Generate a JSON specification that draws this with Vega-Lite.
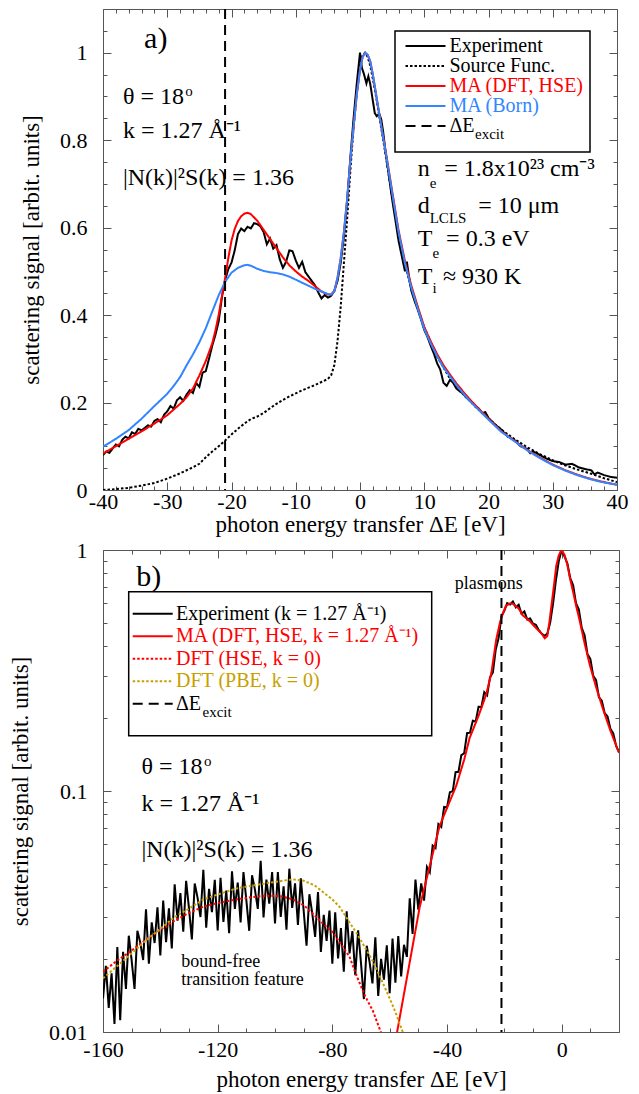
{
  "$schema": "https://vega.github.io/schema/vega-lite/v6.json",
  "padding": {"left": 9, "top": 7, "right": 0, "bottom": 0},
  "spacing": 1,
  "config": {
    "font": "Liberation Serif",
    "view": {"stroke": "#555", "strokeWidth": 1},
    "axis": {
      "labelFont": "Liberation Serif", "titleFont": "Liberation Serif",
      "labelFontSize": 22, "titleFontSize": 23, "titleFontWeight": "normal",
      "labelColor": "#000", "titleColor": "#000", "tickColor": "#555",
      "domain": false, "grid": false, "labelFlush": false, "labelOverlap": false
    },
    "axisX": {"labelPadding": 10, "titlePadding": 0},
    "axisY": {"labelPadding": 24, "titlePadding": 16},
    "legend": {"strokeWidth": 1.5, "labelFont": "Liberation Serif"},
    "text": {"font": "Liberation Serif"}
  },
  "resolve": {
    "scale": {"color": "independent", "strokeDash": "independent"},
    "legend": {"color": "independent", "strokeDash": "independent"}
  },
  "vconcat": [
    {
      "width": 514,
      "height": 481,
      "resolve": {"axis": {"x": "independent", "y": "independent"}},
      "layer": [
        {
          "data": {"values": [
            {"E": -40, "v": 0.080, "s": "Experiment"}, {"E": -39.5, "v": 0.088, "s": "Experiment"}, {"E": -39, "v": 0.085, "s": "Experiment"}, {"E": -38.5, "v": 0.095, "s": "Experiment"}, {"E": -38, "v": 0.104, "s": "Experiment"}, {"E": -37.5, "v": 0.100, "s": "Experiment"}, {"E": -37, "v": 0.115, "s": "Experiment"}, {"E": -36.5, "v": 0.122, "s": "Experiment"}, {"E": -36, "v": 0.118, "s": "Experiment"}, {"E": -35.5, "v": 0.132, "s": "Experiment"}, {"E": -35, "v": 0.128, "s": "Experiment"}, {"E": -34.5, "v": 0.140, "s": "Experiment"}, {"E": -34, "v": 0.136, "s": "Experiment"}, {"E": -33.5, "v": 0.142, "s": "Experiment"}, {"E": -33, "v": 0.148, "s": "Experiment"}, {"E": -32.5, "v": 0.145, "s": "Experiment"}, {"E": -32, "v": 0.158, "s": "Experiment"}, {"E": -31.5, "v": 0.162, "s": "Experiment"}, {"E": -31, "v": 0.155, "s": "Experiment"}, {"E": -30.5, "v": 0.172, "s": "Experiment"}, {"E": -30, "v": 0.180, "s": "Experiment"}, {"E": -29.5, "v": 0.192, "s": "Experiment"}, {"E": -29, "v": 0.186, "s": "Experiment"}, {"E": -28.5, "v": 0.205, "s": "Experiment"}, {"E": -28, "v": 0.212, "s": "Experiment"}, {"E": -27.5, "v": 0.204, "s": "Experiment"}, {"E": -27, "v": 0.218, "s": "Experiment"}, {"E": -26.5, "v": 0.228, "s": "Experiment"}, {"E": -26, "v": 0.222, "s": "Experiment"}, {"E": -25.5, "v": 0.245, "s": "Experiment"}, {"E": -25, "v": 0.236, "s": "Experiment"}, {"E": -24.5, "v": 0.268, "s": "Experiment"}, {"E": -24, "v": 0.272, "s": "Experiment"}, {"E": -23.5, "v": 0.300, "s": "Experiment"}, {"E": -23, "v": 0.330, "s": "Experiment"}, {"E": -22.5, "v": 0.355, "s": "Experiment"}, {"E": -22, "v": 0.385, "s": "Experiment"}, {"E": -21.5, "v": 0.440, "s": "Experiment"}, {"E": -21, "v": 0.480, "s": "Experiment"}, {"E": -20.5, "v": 0.505, "s": "Experiment"}, {"E": -20, "v": 0.520, "s": "Experiment"}, {"E": -19.5, "v": 0.548, "s": "Experiment"}, {"E": -19, "v": 0.585, "s": "Experiment"}, {"E": -18.5, "v": 0.598, "s": "Experiment"}, {"E": -18, "v": 0.592, "s": "Experiment"}, {"E": -17.5, "v": 0.602, "s": "Experiment"}, {"E": -17, "v": 0.598, "s": "Experiment"}, {"E": -16.5, "v": 0.610, "s": "Experiment"}, {"E": -16, "v": 0.608, "s": "Experiment"}, {"E": -15.5, "v": 0.603, "s": "Experiment"}, {"E": -15, "v": 0.590, "s": "Experiment"}, {"E": -14.5, "v": 0.562, "s": "Experiment"}, {"E": -14, "v": 0.575, "s": "Experiment"}, {"E": -13.5, "v": 0.552, "s": "Experiment"}, {"E": -13, "v": 0.560, "s": "Experiment"}, {"E": -12.5, "v": 0.528, "s": "Experiment"}, {"E": -12, "v": 0.508, "s": "Experiment"}, {"E": -11.5, "v": 0.522, "s": "Experiment"}, {"E": -11, "v": 0.548, "s": "Experiment"}, {"E": -10.5, "v": 0.546, "s": "Experiment"}, {"E": -10, "v": 0.525, "s": "Experiment"}, {"E": -9.5, "v": 0.508, "s": "Experiment"}, {"E": -9, "v": 0.522, "s": "Experiment"}, {"E": -8.5, "v": 0.498, "s": "Experiment"}, {"E": -8, "v": 0.488, "s": "Experiment"}, {"E": -7.5, "v": 0.478, "s": "Experiment"}, {"E": -7, "v": 0.468, "s": "Experiment"}, {"E": -6.5, "v": 0.452, "s": "Experiment"}, {"E": -6, "v": 0.438, "s": "Experiment"}, {"E": -5.5, "v": 0.446, "s": "Experiment"}, {"E": -5, "v": 0.440, "s": "Experiment"}, {"E": -4.5, "v": 0.444, "s": "Experiment"}, {"E": -4, "v": 0.455, "s": "Experiment"}, {"E": -3.5, "v": 0.478, "s": "Experiment"}, {"E": -3, "v": 0.520, "s": "Experiment"}, {"E": -2.5, "v": 0.580, "s": "Experiment"}, {"E": -2, "v": 0.660, "s": "Experiment"}, {"E": -1.5, "v": 0.760, "s": "Experiment"}, {"E": -1, "v": 0.850, "s": "Experiment"}, {"E": -0.5, "v": 0.930, "s": "Experiment"}, {"E": 0, "v": 1.000, "s": "Experiment"}, {"E": 0.3, "v": 0.965, "s": "Experiment"}, {"E": 0.6, "v": 0.952, "s": "Experiment"}, {"E": 1, "v": 0.930, "s": "Experiment"}, {"E": 1.3, "v": 0.946, "s": "Experiment"}, {"E": 1.6, "v": 0.928, "s": "Experiment"}, {"E": 2, "v": 0.890, "s": "Experiment"}, {"E": 2.3, "v": 0.862, "s": "Experiment"}, {"E": 2.6, "v": 0.855, "s": "Experiment"}, {"E": 3, "v": 0.860, "s": "Experiment"}, {"E": 3.3, "v": 0.848, "s": "Experiment"}, {"E": 3.6, "v": 0.820, "s": "Experiment"}, {"E": 4, "v": 0.770, "s": "Experiment"}, {"E": 4.5, "v": 0.718, "s": "Experiment"}, {"E": 5, "v": 0.665, "s": "Experiment"}, {"E": 5.5, "v": 0.618, "s": "Experiment"}, {"E": 6, "v": 0.570, "s": "Experiment"}, {"E": 6.5, "v": 0.535, "s": "Experiment"}, {"E": 7, "v": 0.500, "s": "Experiment"}, {"E": 7.3, "v": 0.522, "s": "Experiment"}, {"E": 7.6, "v": 0.490, "s": "Experiment"}, {"E": 8, "v": 0.455, "s": "Experiment"}, {"E": 8.5, "v": 0.432, "s": "Experiment"}, {"E": 9, "v": 0.412, "s": "Experiment"}, {"E": 9.5, "v": 0.390, "s": "Experiment"}, {"E": 10, "v": 0.366, "s": "Experiment"}, {"E": 10.5, "v": 0.350, "s": "Experiment"}, {"E": 11, "v": 0.330, "s": "Experiment"}, {"E": 11.5, "v": 0.312, "s": "Experiment"}, {"E": 12, "v": 0.290, "s": "Experiment"}, {"E": 12.5, "v": 0.275, "s": "Experiment"}, {"E": 13, "v": 0.245, "s": "Experiment"}, {"E": 13.5, "v": 0.238, "s": "Experiment"}, {"E": 14, "v": 0.252, "s": "Experiment"}, {"E": 14.5, "v": 0.245, "s": "Experiment"}, {"E": 15, "v": 0.232, "s": "Experiment"}, {"E": 15.5, "v": 0.226, "s": "Experiment"}, {"E": 16, "v": 0.221, "s": "Experiment"}, {"E": 16.5, "v": 0.212, "s": "Experiment"}, {"E": 17, "v": 0.206, "s": "Experiment"}, {"E": 17.5, "v": 0.198, "s": "Experiment"}, {"E": 18, "v": 0.192, "s": "Experiment"}, {"E": 18.5, "v": 0.186, "s": "Experiment"}, {"E": 19, "v": 0.176, "s": "Experiment"}, {"E": 19.5, "v": 0.178, "s": "Experiment"}, {"E": 20, "v": 0.165, "s": "Experiment"}, {"E": 21, "v": 0.150, "s": "Experiment"}, {"E": 22, "v": 0.138, "s": "Experiment"}, {"E": 23, "v": 0.122, "s": "Experiment"}, {"E": 24, "v": 0.115, "s": "Experiment"}, {"E": 25, "v": 0.100, "s": "Experiment"}, {"E": 26, "v": 0.094, "s": "Experiment"}, {"E": 26.5, "v": 0.084, "s": "Experiment"}, {"E": 27, "v": 0.088, "s": "Experiment"}, {"E": 28, "v": 0.080, "s": "Experiment"}, {"E": 29, "v": 0.072, "s": "Experiment"}, {"E": 30, "v": 0.066, "s": "Experiment"}, {"E": 31, "v": 0.064, "s": "Experiment"}, {"E": 32, "v": 0.058, "s": "Experiment"}, {"E": 33, "v": 0.060, "s": "Experiment"}, {"E": 34, "v": 0.052, "s": "Experiment"}, {"E": 35, "v": 0.048, "s": "Experiment"}, {"E": 36, "v": 0.045, "s": "Experiment"}, {"E": 36.5, "v": 0.036, "s": "Experiment"}, {"E": 37, "v": 0.040, "s": "Experiment"}, {"E": 38, "v": 0.034, "s": "Experiment"}, {"E": 39, "v": 0.030, "s": "Experiment"}, {"E": 40, "v": 0.028, "s": "Experiment"},

            {"E": -40, "v": 0.000, "s": "Source Func."}, {"E": -38, "v": 0.002, "s": "Source Func."}, {"E": -36, "v": 0.005, "s": "Source Func."}, {"E": -34, "v": 0.010, "s": "Source Func."}, {"E": -32, "v": 0.016, "s": "Source Func."}, {"E": -30, "v": 0.026, "s": "Source Func."}, {"E": -28, "v": 0.038, "s": "Source Func."}, {"E": -26, "v": 0.052, "s": "Source Func."}, {"E": -25, "v": 0.060, "s": "Source Func."}, {"E": -24, "v": 0.075, "s": "Source Func."}, {"E": -23, "v": 0.088, "s": "Source Func."}, {"E": -22, "v": 0.100, "s": "Source Func."}, {"E": -21, "v": 0.113, "s": "Source Func."}, {"E": -20, "v": 0.127, "s": "Source Func."}, {"E": -19, "v": 0.140, "s": "Source Func."}, {"E": -18, "v": 0.152, "s": "Source Func."}, {"E": -17, "v": 0.162, "s": "Source Func."}, {"E": -16, "v": 0.168, "s": "Source Func."}, {"E": -15, "v": 0.176, "s": "Source Func."}, {"E": -14, "v": 0.187, "s": "Source Func."}, {"E": -13, "v": 0.197, "s": "Source Func."}, {"E": -12, "v": 0.206, "s": "Source Func."}, {"E": -11, "v": 0.214, "s": "Source Func."}, {"E": -10, "v": 0.221, "s": "Source Func."}, {"E": -9, "v": 0.228, "s": "Source Func."}, {"E": -8, "v": 0.234, "s": "Source Func."}, {"E": -7, "v": 0.240, "s": "Source Func."}, {"E": -6, "v": 0.247, "s": "Source Func."}, {"E": -5, "v": 0.254, "s": "Source Func."}, {"E": -4.5, "v": 0.262, "s": "Source Func."}, {"E": -4, "v": 0.285, "s": "Source Func."}, {"E": -3.5, "v": 0.340, "s": "Source Func."}, {"E": -3, "v": 0.420, "s": "Source Func."}, {"E": -2.5, "v": 0.520, "s": "Source Func."}, {"E": -2, "v": 0.620, "s": "Source Func."}, {"E": -1.5, "v": 0.730, "s": "Source Func."}, {"E": -1, "v": 0.830, "s": "Source Func."}, {"E": -0.5, "v": 0.910, "s": "Source Func."}, {"E": 0, "v": 0.970, "s": "Source Func."}, {"E": 0.4, "v": 0.995, "s": "Source Func."}, {"E": 0.8, "v": 1.000, "s": "Source Func."}, {"E": 1.2, "v": 0.990, "s": "Source Func."}, {"E": 1.6, "v": 0.970, "s": "Source Func."}, {"E": 2, "v": 0.940, "s": "Source Func."}, {"E": 2.5, "v": 0.900, "s": "Source Func."}, {"E": 3, "v": 0.855, "s": "Source Func."}, {"E": 4, "v": 0.765, "s": "Source Func."}, {"E": 5, "v": 0.670, "s": "Source Func."}, {"E": 6, "v": 0.585, "s": "Source Func."}, {"E": 7, "v": 0.515, "s": "Source Func."}, {"E": 8, "v": 0.460, "s": "Source Func."}, {"E": 9, "v": 0.415, "s": "Source Func."}, {"E": 10, "v": 0.372, "s": "Source Func."}, {"E": 12, "v": 0.305, "s": "Source Func."}, {"E": 14, "v": 0.255, "s": "Source Func."}, {"E": 16, "v": 0.220, "s": "Source Func."}, {"E": 18, "v": 0.190, "s": "Source Func."}, {"E": 20, "v": 0.163, "s": "Source Func."}, {"E": 22, "v": 0.138, "s": "Source Func."}, {"E": 24, "v": 0.117, "s": "Source Func."}, {"E": 26, "v": 0.098, "s": "Source Func."}, {"E": 28, "v": 0.082, "s": "Source Func."}, {"E": 30, "v": 0.068, "s": "Source Func."}, {"E": 32, "v": 0.056, "s": "Source Func."}, {"E": 34, "v": 0.046, "s": "Source Func."}, {"E": 36, "v": 0.037, "s": "Source Func."}, {"E": 38, "v": 0.027, "s": "Source Func."}, {"E": 40, "v": 0.018, "s": "Source Func."},

            {"E": -40, "v": 0.083, "s": "MA (DFT, HSE)"}, {"E": -38, "v": 0.100, "s": "MA (DFT, HSE)"}, {"E": -36, "v": 0.117, "s": "MA (DFT, HSE)"}, {"E": -34, "v": 0.134, "s": "MA (DFT, HSE)"}, {"E": -32, "v": 0.152, "s": "MA (DFT, HSE)"}, {"E": -30, "v": 0.171, "s": "MA (DFT, HSE)"}, {"E": -28, "v": 0.197, "s": "MA (DFT, HSE)"}, {"E": -27, "v": 0.212, "s": "MA (DFT, HSE)"}, {"E": -26, "v": 0.232, "s": "MA (DFT, HSE)"}, {"E": -25, "v": 0.262, "s": "MA (DFT, HSE)"}, {"E": -24, "v": 0.295, "s": "MA (DFT, HSE)"}, {"E": -23, "v": 0.335, "s": "MA (DFT, HSE)"}, {"E": -22.5, "v": 0.365, "s": "MA (DFT, HSE)"}, {"E": -22, "v": 0.400, "s": "MA (DFT, HSE)"}, {"E": -21.5, "v": 0.443, "s": "MA (DFT, HSE)"}, {"E": -21, "v": 0.484, "s": "MA (DFT, HSE)"}, {"E": -20.5, "v": 0.530, "s": "MA (DFT, HSE)"}, {"E": -20, "v": 0.570, "s": "MA (DFT, HSE)"}, {"E": -19.5, "v": 0.597, "s": "MA (DFT, HSE)"}, {"E": -19, "v": 0.615, "s": "MA (DFT, HSE)"}, {"E": -18.5, "v": 0.626, "s": "MA (DFT, HSE)"}, {"E": -18, "v": 0.632, "s": "MA (DFT, HSE)"}, {"E": -17.5, "v": 0.634, "s": "MA (DFT, HSE)"}, {"E": -17, "v": 0.631, "s": "MA (DFT, HSE)"}, {"E": -16, "v": 0.616, "s": "MA (DFT, HSE)"}, {"E": -15, "v": 0.595, "s": "MA (DFT, HSE)"}, {"E": -14, "v": 0.574, "s": "MA (DFT, HSE)"}, {"E": -13, "v": 0.553, "s": "MA (DFT, HSE)"}, {"E": -12, "v": 0.532, "s": "MA (DFT, HSE)"}, {"E": -11, "v": 0.514, "s": "MA (DFT, HSE)"}, {"E": -10, "v": 0.500, "s": "MA (DFT, HSE)"}, {"E": -9, "v": 0.488, "s": "MA (DFT, HSE)"}, {"E": -8, "v": 0.478, "s": "MA (DFT, HSE)"}, {"E": -7, "v": 0.466, "s": "MA (DFT, HSE)"}, {"E": -6, "v": 0.454, "s": "MA (DFT, HSE)"}, {"E": -5, "v": 0.447, "s": "MA (DFT, HSE)"}, {"E": -4.5, "v": 0.447, "s": "MA (DFT, HSE)"}, {"E": -4, "v": 0.455, "s": "MA (DFT, HSE)"}, {"E": -3.5, "v": 0.485, "s": "MA (DFT, HSE)"}, {"E": -3, "v": 0.530, "s": "MA (DFT, HSE)"}, {"E": -2.5, "v": 0.590, "s": "MA (DFT, HSE)"}, {"E": -2, "v": 0.665, "s": "MA (DFT, HSE)"}, {"E": -1.5, "v": 0.755, "s": "MA (DFT, HSE)"}, {"E": -1, "v": 0.830, "s": "MA (DFT, HSE)"}, {"E": -0.5, "v": 0.905, "s": "MA (DFT, HSE)"}, {"E": 0, "v": 0.960, "s": "MA (DFT, HSE)"}, {"E": 0.4, "v": 0.990, "s": "MA (DFT, HSE)"}, {"E": 0.8, "v": 1.000, "s": "MA (DFT, HSE)"}, {"E": 1.2, "v": 0.995, "s": "MA (DFT, HSE)"}, {"E": 1.6, "v": 0.980, "s": "MA (DFT, HSE)"}, {"E": 2, "v": 0.950, "s": "MA (DFT, HSE)"}, {"E": 2.5, "v": 0.905, "s": "MA (DFT, HSE)"}, {"E": 3, "v": 0.860, "s": "MA (DFT, HSE)"}, {"E": 3.5, "v": 0.815, "s": "MA (DFT, HSE)"}, {"E": 4, "v": 0.775, "s": "MA (DFT, HSE)"}, {"E": 5, "v": 0.684, "s": "MA (DFT, HSE)"}, {"E": 6, "v": 0.594, "s": "MA (DFT, HSE)"}, {"E": 7, "v": 0.523, "s": "MA (DFT, HSE)"}, {"E": 8, "v": 0.467, "s": "MA (DFT, HSE)"}, {"E": 9, "v": 0.419, "s": "MA (DFT, HSE)"}, {"E": 10, "v": 0.373, "s": "MA (DFT, HSE)"}, {"E": 11, "v": 0.340, "s": "MA (DFT, HSE)"}, {"E": 12, "v": 0.311, "s": "MA (DFT, HSE)"}, {"E": 13, "v": 0.285, "s": "MA (DFT, HSE)"}, {"E": 14, "v": 0.264, "s": "MA (DFT, HSE)"}, {"E": 15, "v": 0.244, "s": "MA (DFT, HSE)"}, {"E": 16, "v": 0.226, "s": "MA (DFT, HSE)"}, {"E": 17, "v": 0.209, "s": "MA (DFT, HSE)"}, {"E": 18, "v": 0.193, "s": "MA (DFT, HSE)"}, {"E": 20, "v": 0.163, "s": "MA (DFT, HSE)"}, {"E": 22, "v": 0.134, "s": "MA (DFT, HSE)"}, {"E": 24, "v": 0.113, "s": "MA (DFT, HSE)"}, {"E": 26, "v": 0.092, "s": "MA (DFT, HSE)"}, {"E": 28, "v": 0.074, "s": "MA (DFT, HSE)"}, {"E": 30, "v": 0.058, "s": "MA (DFT, HSE)"}, {"E": 32, "v": 0.045, "s": "MA (DFT, HSE)"}, {"E": 34, "v": 0.034, "s": "MA (DFT, HSE)"}, {"E": 36, "v": 0.025, "s": "MA (DFT, HSE)"}, {"E": 38, "v": 0.018, "s": "MA (DFT, HSE)"}, {"E": 40, "v": 0.012, "s": "MA (DFT, HSE)"},

            {"E": -40, "v": 0.099, "s": "MA (Born)"}, {"E": -38, "v": 0.117, "s": "MA (Born)"}, {"E": -36, "v": 0.137, "s": "MA (Born)"}, {"E": -34, "v": 0.163, "s": "MA (Born)"}, {"E": -32, "v": 0.192, "s": "MA (Born)"}, {"E": -30, "v": 0.220, "s": "MA (Born)"}, {"E": -29, "v": 0.238, "s": "MA (Born)"}, {"E": -28, "v": 0.258, "s": "MA (Born)"}, {"E": -27, "v": 0.285, "s": "MA (Born)"}, {"E": -26, "v": 0.310, "s": "MA (Born)"}, {"E": -25, "v": 0.338, "s": "MA (Born)"}, {"E": -24, "v": 0.370, "s": "MA (Born)"}, {"E": -23, "v": 0.408, "s": "MA (Born)"}, {"E": -22, "v": 0.445, "s": "MA (Born)"}, {"E": -21, "v": 0.476, "s": "MA (Born)"}, {"E": -20, "v": 0.497, "s": "MA (Born)"}, {"E": -19, "v": 0.508, "s": "MA (Born)"}, {"E": -18, "v": 0.514, "s": "MA (Born)"}, {"E": -17.5, "v": 0.515, "s": "MA (Born)"}, {"E": -17, "v": 0.513, "s": "MA (Born)"}, {"E": -16, "v": 0.506, "s": "MA (Born)"}, {"E": -15, "v": 0.501, "s": "MA (Born)"}, {"E": -14, "v": 0.498, "s": "MA (Born)"}, {"E": -13, "v": 0.496, "s": "MA (Born)"}, {"E": -12, "v": 0.493, "s": "MA (Born)"}, {"E": -11, "v": 0.488, "s": "MA (Born)"}, {"E": -10, "v": 0.481, "s": "MA (Born)"}, {"E": -9, "v": 0.474, "s": "MA (Born)"}, {"E": -8, "v": 0.467, "s": "MA (Born)"}, {"E": -7, "v": 0.460, "s": "MA (Born)"}, {"E": -6, "v": 0.454, "s": "MA (Born)"}, {"E": -5, "v": 0.448, "s": "MA (Born)"}, {"E": -4.5, "v": 0.447, "s": "MA (Born)"}, {"E": -4, "v": 0.454, "s": "MA (Born)"}, {"E": -3.5, "v": 0.485, "s": "MA (Born)"}, {"E": -3, "v": 0.530, "s": "MA (Born)"}, {"E": -2.5, "v": 0.590, "s": "MA (Born)"}, {"E": -2, "v": 0.665, "s": "MA (Born)"}, {"E": -1.5, "v": 0.755, "s": "MA (Born)"}, {"E": -1, "v": 0.830, "s": "MA (Born)"}, {"E": -0.5, "v": 0.905, "s": "MA (Born)"}, {"E": 0, "v": 0.960, "s": "MA (Born)"}, {"E": 0.4, "v": 0.990, "s": "MA (Born)"}, {"E": 0.8, "v": 1.000, "s": "MA (Born)"}, {"E": 1.2, "v": 0.995, "s": "MA (Born)"}, {"E": 1.6, "v": 0.980, "s": "MA (Born)"}, {"E": 2, "v": 0.950, "s": "MA (Born)"}, {"E": 2.5, "v": 0.905, "s": "MA (Born)"}, {"E": 3, "v": 0.860, "s": "MA (Born)"}, {"E": 3.5, "v": 0.815, "s": "MA (Born)"}, {"E": 4, "v": 0.772, "s": "MA (Born)"}, {"E": 5, "v": 0.680, "s": "MA (Born)"}, {"E": 6, "v": 0.590, "s": "MA (Born)"}, {"E": 7, "v": 0.518, "s": "MA (Born)"}, {"E": 8, "v": 0.462, "s": "MA (Born)"}, {"E": 9, "v": 0.414, "s": "MA (Born)"}, {"E": 10, "v": 0.368, "s": "MA (Born)"}, {"E": 11, "v": 0.335, "s": "MA (Born)"}, {"E": 12, "v": 0.306, "s": "MA (Born)"}, {"E": 13, "v": 0.280, "s": "MA (Born)"}, {"E": 14, "v": 0.260, "s": "MA (Born)"}, {"E": 15, "v": 0.240, "s": "MA (Born)"}, {"E": 16, "v": 0.222, "s": "MA (Born)"}, {"E": 17, "v": 0.205, "s": "MA (Born)"}, {"E": 18, "v": 0.190, "s": "MA (Born)"}, {"E": 20, "v": 0.161, "s": "MA (Born)"}, {"E": 22, "v": 0.133, "s": "MA (Born)"}, {"E": 24, "v": 0.112, "s": "MA (Born)"}, {"E": 26, "v": 0.091, "s": "MA (Born)"}, {"E": 28, "v": 0.073, "s": "MA (Born)"}, {"E": 30, "v": 0.057, "s": "MA (Born)"}, {"E": 32, "v": 0.044, "s": "MA (Born)"}, {"E": 34, "v": 0.033, "s": "MA (Born)"}, {"E": 36, "v": 0.024, "s": "MA (Born)"}, {"E": 38, "v": 0.017, "s": "MA (Born)"}, {"E": 40, "v": 0.012, "s": "MA (Born)"}
          ]},
          "mark": {"type": "line", "strokeWidth": 2, "clip": true},
          "encoding": {
            "x": {"field": "E", "type": "quantitative", "scale": {"domain": [-40, 40], "nice": false, "zero": false},
                  "axis": {"orient": "bottom", "values": [-40, -30, -20, -10, 0, 10, 20, 30, 40], "tickSize": -8, "labelPadding": 9, "titlePadding": 1, "title": "photon energy transfer ΔE [eV]", "labelExpr": "replace(datum.label, '−', '-')"}},
            "y": {"field": "v", "type": "quantitative", "scale": {"domain": [0, 1.1], "nice": false, "zero": false},
                  "axis": {"orient": "left", "values": [0, 0.2, 0.4, 0.6, 0.8, 1], "format": "~g", "tickSize": -8, "title": "scattering signal [arbit. units]"}},
            "color": {"field": "s", "type": "nominal",
                      "scale": {"domain": ["Experiment", "Source Func.", "MA (DFT, HSE)", "MA (Born)", "ΔE"], "range": ["#000000", "#000000", "#ff0000", "#3385ff", "#000000"]},
                      "legend": {"orient": "none", "legendX": 292, "legendY": 22, "title": " ", "titleOrient": "bottom", "titleFontSize": 11, "titlePadding": 0, "symbolType": "M-4,0H4", "symbolSize": 100, "symbolStrokeWidth": 2, "symbolOffset": 15.5, "labelOffset": 14, "labelFont": "Liberation Serif", "labelFontSize": 20, "labelLimit": 400, "rowPadding": 0, "padding": 5, "strokeColor": "#000",
                                 "encode": {"labels": {"update": {"fill": {"signal": "datum.value == 'MA (DFT, HSE)' ? '#ff0000' : datum.value == 'MA (Born)' ? '#3385ff' : '#000000'"}}}}}},
            "strokeDash": {"field": "s", "type": "nominal",
                           "scale": {"domain": ["Experiment", "Source Func.", "MA (DFT, HSE)", "MA (Born)", "ΔE"], "range": [[1, 0], [2.5, 2], [1, 0], [1, 0], [10, 6]]},
                           "legend": {"orient": "none", "legendX": 292, "legendY": 22, "title": " ", "titleOrient": "bottom", "titleFontSize": 11, "titlePadding": 0, "symbolType": "M-4,0H4", "symbolSize": 100, "symbolStrokeWidth": 2, "symbolOffset": 15.5, "labelOffset": 14, "labelFont": "Liberation Serif", "labelFontSize": 20, "labelLimit": 400, "rowPadding": 0, "padding": 5, "strokeColor": "#000",
                                      "encode": {"labels": {"update": {"fill": {"signal": "datum.value == 'MA (DFT, HSE)' ? '#ff0000' : datum.value == 'MA (Born)' ? '#3385ff' : '#000000'"}}}}}}
          }
        },
        {
          "data": {"values": [{"E": -21, "s": "ΔE"}]},
          "mark": {"type": "rule", "strokeWidth": 2},
          "encoding": {
            "x": {"field": "E", "type": "quantitative", "axis": null},
            "color": {"field": "s", "type": "nominal"},
            "strokeDash": {"field": "s", "type": "nominal"}
          }
        },
        {
          "data": {"values": [
            {"E": -36.9, "v": 0.898, "t": "θ = 18"},
            {"E": -36.9, "v": 0.8205, "t": "k = 1.27 Å⁻¹"},
            {"E": -36.9, "v": 0.7135, "t": "|N(k)|²S(k) = 1.36"},
            {"E": 9.0, "v": 0.733, "t": "n"},
            {"E": 13.1, "v": 0.733, "t": "= 1.8x10²³ cm⁻³"},
            {"E": 9.0, "v": 0.649, "t": "d"},
            {"E": 18.4, "v": 0.649, "t": "= 10 μm"},
            {"E": 9.0, "v": 0.573, "t": "T"},
            {"E": 13.4, "v": 0.573, "t": "= 0.3 eV"},
            {"E": 9.0, "v": 0.488, "t": "T"},
            {"E": 12.9, "v": 0.488, "t": "≈ 930 K"}
          ]},
          "mark": {"type": "text", "align": "left", "baseline": "middle", "fontSize": 24, "font": "Liberation Serif"},
          "encoding": {
            "x": {"field": "E", "type": "quantitative", "axis": {"orient": "top", "values": [-40, -30, -20, -10, 0, 10, 20, 30, 40], "tickSize": -8, "labels": false, "title": null}},
            "y": {"field": "v", "type": "quantitative", "axis": {"orient": "right", "values": [0, 0.2, 0.4, 0.6, 0.8, 1], "tickSize": -8, "labels": false, "title": null}},
            "text": {"field": "t"}
          }
        },
        {
          "data": {"values": [
            {"E": -27.2, "v": 0.912, "t": "o"},
            {"E": 10.85, "v": 0.702, "t": "e"},
            {"E": 10.85, "v": 0.623, "t": "LCLS"},
            {"E": 11.3, "v": 0.542, "t": "e"},
            {"E": 11.3, "v": 0.461, "t": "i"},
            {"E": 17.9, "v": 0.8138, "t": "excit"}
          ]},
          "mark": {"type": "text", "align": "left", "baseline": "middle", "fontSize": 15, "font": "Liberation Serif"},
          "encoding": {
            "x": {"field": "E", "type": "quantitative", "axis": {"orient": "bottom", "values": [-38, -36, -34, -32, -28, -26, -24, -22, -18, -16, -14, -12, -8, -6, -4, -2, 2, 4, 6, 8, 12, 14, 16, 18, 22, 24, 26, 28, 32, 34, 36, 38], "tickSize": -4, "labels": false, "title": null}},
            "y": {"field": "v", "type": "quantitative", "axis": {"orient": "left", "values": [0.05, 0.1, 0.15, 0.25, 0.3, 0.35, 0.45, 0.5, 0.55, 0.65, 0.7, 0.75, 0.85, 0.9, 0.95, 1.05], "tickSize": -4, "labels": false, "title": null}},
            "text": {"field": "t"}
          }
        },
        {
          "data": {"values": [{"E": -33.6, "v": 1.031, "t": "a)"}]},
          "mark": {"type": "text", "align": "left", "baseline": "middle", "fontSize": 30, "font": "Liberation Serif"},
          "encoding": {
            "x": {"field": "E", "type": "quantitative", "axis": {"orient": "top", "values": [-38, -36, -34, -32, -28, -26, -24, -22, -18, -16, -14, -12, -8, -6, -4, -2, 2, 4, 6, 8, 12, 14, 16, 18, 22, 24, 26, 28, 32, 34, 36, 38], "tickSize": -4, "labels": false, "title": null}},
            "y": {"field": "v", "type": "quantitative", "axis": {"orient": "right", "values": [0.05, 0.1, 0.15, 0.25, 0.3, 0.35, 0.45, 0.5, 0.55, 0.65, 0.7, 0.75, 0.85, 0.9, 0.95, 1.05], "tickSize": -4, "labels": false, "title": null}},
            "text": {"field": "t"}
          }
        }
      ]
    },
    {
      "width": 516,
      "height": 482,
      "resolve": {"axis": {"x": "independent", "y": "independent"}},
      "layer": [
        {
          "data": {"values": [
            {"E": -160, "v": 0.0138, "s": "Experiment (k = 1.27 Å⁻¹)"}, {"E": -159, "v": 0.0188, "s": "Experiment (k = 1.27 Å⁻¹)"}, {"E": -158, "v": 0.0126, "s": "Experiment (k = 1.27 Å⁻¹)"}, {"E": -157, "v": 0.0175, "s": "Experiment (k = 1.27 Å⁻¹)"}, {"E": -156, "v": 0.0108, "s": "Experiment (k = 1.27 Å⁻¹)"}, {"E": -155, "v": 0.0225, "s": "Experiment (k = 1.27 Å⁻¹)"}, {"E": -154, "v": 0.0112, "s": "Experiment (k = 1.27 Å⁻¹)"}, {"E": -153, "v": 0.0215, "s": "Experiment (k = 1.27 Å⁻¹)"}, {"E": -152, "v": 0.0151, "s": "Experiment (k = 1.27 Å⁻¹)"}, {"E": -151, "v": 0.0251, "s": "Experiment (k = 1.27 Å⁻¹)"}, {"E": -150, "v": 0.0198, "s": "Experiment (k = 1.27 Å⁻¹)"}, {"E": -149, "v": 0.0151, "s": "Experiment (k = 1.27 Å⁻¹)"}, {"E": -148, "v": 0.0263, "s": "Experiment (k = 1.27 Å⁻¹)"}, {"E": -147, "v": 0.0235, "s": "Experiment (k = 1.27 Å⁻¹)"}, {"E": -146, "v": 0.0199, "s": "Experiment (k = 1.27 Å⁻¹)"}, {"E": -145, "v": 0.0323, "s": "Experiment (k = 1.27 Å⁻¹)"}, {"E": -144, "v": 0.0192, "s": "Experiment (k = 1.27 Å⁻¹)"}, {"E": -143, "v": 0.0285, "s": "Experiment (k = 1.27 Å⁻¹)"}, {"E": -142, "v": 0.0234, "s": "Experiment (k = 1.27 Å⁻¹)"}, {"E": -141, "v": 0.0329, "s": "Experiment (k = 1.27 Å⁻¹)"}, {"E": -140, "v": 0.0208, "s": "Experiment (k = 1.27 Å⁻¹)"}, {"E": -139, "v": 0.0351, "s": "Experiment (k = 1.27 Å⁻¹)"}, {"E": -138, "v": 0.0236, "s": "Experiment (k = 1.27 Å⁻¹)"}, {"E": -137, "v": 0.0326, "s": "Experiment (k = 1.27 Å⁻¹)"}, {"E": -136, "v": 0.0222, "s": "Experiment (k = 1.27 Å⁻¹)"}, {"E": -135, "v": 0.0410, "s": "Experiment (k = 1.27 Å⁻¹)"}, {"E": -134, "v": 0.0290, "s": "Experiment (k = 1.27 Å⁻¹)"}, {"E": -133, "v": 0.0377, "s": "Experiment (k = 1.27 Å⁻¹)"}, {"E": -132, "v": 0.0261, "s": "Experiment (k = 1.27 Å⁻¹)"}, {"E": -131, "v": 0.0424, "s": "Experiment (k = 1.27 Å⁻¹)"}, {"E": -130, "v": 0.0325, "s": "Experiment (k = 1.27 Å⁻¹)"}, {"E": -129, "v": 0.0242, "s": "Experiment (k = 1.27 Å⁻¹)"}, {"E": -128, "v": 0.0413, "s": "Experiment (k = 1.27 Å⁻¹)"}, {"E": -127, "v": 0.0360, "s": "Experiment (k = 1.27 Å⁻¹)"}, {"E": -126, "v": 0.0300, "s": "Experiment (k = 1.27 Å⁻¹)"}, {"E": -125, "v": 0.0471, "s": "Experiment (k = 1.27 Å⁻¹)"}, {"E": -124, "v": 0.0271, "s": "Experiment (k = 1.27 Å⁻¹)"}, {"E": -123, "v": 0.0393, "s": "Experiment (k = 1.27 Å⁻¹)"}, {"E": -122, "v": 0.0314, "s": "Experiment (k = 1.27 Å⁻¹)"}, {"E": -121, "v": 0.0428, "s": "Experiment (k = 1.27 Å⁻¹)"}, {"E": -120, "v": 0.0264, "s": "Experiment (k = 1.27 Å⁻¹)"}, {"E": -119, "v": 0.0436, "s": "Experiment (k = 1.27 Å⁻¹)"}, {"E": -118, "v": 0.0286, "s": "Experiment (k = 1.27 Å⁻¹)"}, {"E": -117, "v": 0.0386, "s": "Experiment (k = 1.27 Å⁻¹)"}, {"E": -116, "v": 0.0257, "s": "Experiment (k = 1.27 Å⁻¹)"}, {"E": -115, "v": 0.0464, "s": "Experiment (k = 1.27 Å⁻¹)"}, {"E": -114, "v": 0.0324, "s": "Experiment (k = 1.27 Å⁻¹)"}, {"E": -113, "v": 0.0417, "s": "Experiment (k = 1.27 Å⁻¹)"}, {"E": -112, "v": 0.0285, "s": "Experiment (k = 1.27 Å⁻¹)"}, {"E": -111, "v": 0.0461, "s": "Experiment (k = 1.27 Å⁻¹)"}, {"E": -110, "v": 0.0353, "s": "Experiment (k = 1.27 Å⁻¹)"}, {"E": -109, "v": 0.0263, "s": "Experiment (k = 1.27 Å⁻¹)"}, {"E": -108, "v": 0.0447, "s": "Experiment (k = 1.27 Å⁻¹)"}, {"E": -107, "v": 0.0390, "s": "Experiment (k = 1.27 Å⁻¹)"}, {"E": -106, "v": 0.0324, "s": "Experiment (k = 1.27 Å⁻¹)"}, {"E": -105, "v": 0.0513, "s": "Experiment (k = 1.27 Å⁻¹)"}, {"E": -104, "v": 0.0299, "s": "Experiment (k = 1.27 Å⁻¹)"}, {"E": -103, "v": 0.0429, "s": "Experiment (k = 1.27 Å⁻¹)"}, {"E": -102, "v": 0.0341, "s": "Experiment (k = 1.27 Å⁻¹)"}, {"E": -101, "v": 0.0461, "s": "Experiment (k = 1.27 Å⁻¹)"}, {"E": -100, "v": 0.0282, "s": "Experiment (k = 1.27 Å⁻¹)"}, {"E": -99, "v": 0.0461, "s": "Experiment (k = 1.27 Å⁻¹)"}, {"E": -98, "v": 0.0300, "s": "Experiment (k = 1.27 Å⁻¹)"}, {"E": -97, "v": 0.0402, "s": "Experiment (k = 1.27 Å⁻¹)"}, {"E": -96, "v": 0.0266, "s": "Experiment (k = 1.27 Å⁻¹)"}, {"E": -95, "v": 0.0476, "s": "Experiment (k = 1.27 Å⁻¹)"}, {"E": -94, "v": 0.0327, "s": "Experiment (k = 1.27 Å⁻¹)"}, {"E": -93, "v": 0.0414, "s": "Experiment (k = 1.27 Å⁻¹)"}, {"E": -92, "v": 0.0278, "s": "Experiment (k = 1.27 Å⁻¹)"}, {"E": -91, "v": 0.0434, "s": "Experiment (k = 1.27 Å⁻¹)"}, {"E": -90, "v": 0.0319, "s": "Experiment (k = 1.27 Å⁻¹)"}, {"E": -89, "v": 0.0228, "s": "Experiment (k = 1.27 Å⁻¹)"}, {"E": -88, "v": 0.0373, "s": "Experiment (k = 1.27 Å⁻¹)"}, {"E": -87, "v": 0.0311, "s": "Experiment (k = 1.27 Å⁻¹)"}, {"E": -86, "v": 0.0248, "s": "Experiment (k = 1.27 Å⁻¹)"}, {"E": -85, "v": 0.0381, "s": "Experiment (k = 1.27 Å⁻¹)"}, {"E": -84, "v": 0.0215, "s": "Experiment (k = 1.27 Å⁻¹)"}, {"E": -83, "v": 0.0306, "s": "Experiment (k = 1.27 Å⁻¹)"}, {"E": -82, "v": 0.0239, "s": "Experiment (k = 1.27 Å⁻¹)"}, {"E": -81, "v": 0.0319, "s": "Experiment (k = 1.27 Å⁻¹)"}, {"E": -80, "v": 0.0192, "s": "Experiment (k = 1.27 Å⁻¹)"}, {"E": -79, "v": 0.0314, "s": "Experiment (k = 1.27 Å⁻¹)"}, {"E": -78, "v": 0.0202, "s": "Experiment (k = 1.27 Å⁻¹)"}, {"E": -77, "v": 0.0270, "s": "Experiment (k = 1.27 Å⁻¹)"}, {"E": -76, "v": 0.0178, "s": "Experiment (k = 1.27 Å⁻¹)"}, {"E": -75, "v": 0.0317, "s": "Experiment (k = 1.27 Å⁻¹)"}, {"E": -74, "v": 0.0212, "s": "Experiment (k = 1.27 Å⁻¹)"}, {"E": -73, "v": 0.0262, "s": "Experiment (k = 1.27 Å⁻¹)"}, {"E": -72, "v": 0.0172, "s": "Experiment (k = 1.27 Å⁻¹)"}, {"E": -71, "v": 0.0264, "s": "Experiment (k = 1.27 Å⁻¹)"}, {"E": -70, "v": 0.0193, "s": "Experiment (k = 1.27 Å⁻¹)"}, {"E": -69, "v": 0.0137, "s": "Experiment (k = 1.27 Å⁻¹)"}, {"E": -68, "v": 0.0228, "s": "Experiment (k = 1.27 Å⁻¹)"}, {"E": -67, "v": 0.0195, "s": "Experiment (k = 1.27 Å⁻¹)"}, {"E": -66, "v": 0.0159, "s": "Experiment (k = 1.27 Å⁻¹)"}, {"E": -65, "v": 0.0247, "s": "Experiment (k = 1.27 Å⁻¹)"}, {"E": -64, "v": 0.0141, "s": "Experiment (k = 1.27 Å⁻¹)"}, {"E": -63, "v": 0.0201, "s": "Experiment (k = 1.27 Å⁻¹)"}, {"E": -62, "v": 0.0165, "s": "Experiment (k = 1.27 Å⁻¹)"}, {"E": -61, "v": 0.0229, "s": "Experiment (k = 1.27 Å⁻¹)"}, {"E": -60, "v": 0.0145, "s": "Experiment (k = 1.27 Å⁻¹)"}, {"E": -59, "v": 0.0244, "s": "Experiment (k = 1.27 Å⁻¹)"}, {"E": -58, "v": 0.0160, "s": "Experiment (k = 1.27 Å⁻¹)"}, {"E": -57, "v": 0.0250, "s": "Experiment (k = 1.27 Å⁻¹)"}, {"E": -56, "v": 0.0170, "s": "Experiment (k = 1.27 Å⁻¹)"}, {"E": -55, "v": 0.0230, "s": "Experiment (k = 1.27 Å⁻¹)"}, {"E": -54, "v": 0.0205, "s": "Experiment (k = 1.27 Å⁻¹)"}, {"E": -53, "v": 0.0359, "s": "Experiment (k = 1.27 Å⁻¹)"}, {"E": -52, "v": 0.0255, "s": "Experiment (k = 1.27 Å⁻¹)"}, {"E": -51, "v": 0.0429, "s": "Experiment (k = 1.27 Å⁻¹)"}, {"E": -50, "v": 0.0322, "s": "Experiment (k = 1.27 Å⁻¹)"}, {"E": -49, "v": 0.0414, "s": "Experiment (k = 1.27 Å⁻¹)"}, {"E": -48, "v": 0.0351, "s": "Experiment (k = 1.27 Å⁻¹)"}, {"E": -47, "v": 0.0484, "s": "Experiment (k = 1.27 Å⁻¹)"}, {"E": -46, "v": 0.0460, "s": "Experiment (k = 1.27 Å⁻¹)"}, {"E": -45, "v": 0.0594, "s": "Experiment (k = 1.27 Å⁻¹)"}, {"E": -44, "v": 0.0580, "s": "Experiment (k = 1.27 Å⁻¹)"}, {"E": -43, "v": 0.0729, "s": "Experiment (k = 1.27 Å⁻¹)"}, {"E": -42, "v": 0.0710, "s": "Experiment (k = 1.27 Å⁻¹)"}, {"E": -41, "v": 0.0859, "s": "Experiment (k = 1.27 Å⁻¹)"}, {"E": -40, "v": 0.0854, "s": "Experiment (k = 1.27 Å⁻¹)"}, {"E": -39, "v": 0.0988, "s": "Experiment (k = 1.27 Å⁻¹)"}, {"E": -38, "v": 0.0999, "s": "Experiment (k = 1.27 Å⁻¹)"}, {"E": -37, "v": 0.1197, "s": "Experiment (k = 1.27 Å⁻¹)"}, {"E": -36, "v": 0.1200, "s": "Experiment (k = 1.27 Å⁻¹)"}, {"E": -35, "v": 0.1408, "s": "Experiment (k = 1.27 Å⁻¹)"}, {"E": -34, "v": 0.1435, "s": "Experiment (k = 1.27 Å⁻¹)"}, {"E": -33, "v": 0.1738, "s": "Experiment (k = 1.27 Å⁻¹)"}, {"E": -32, "v": 0.1744, "s": "Experiment (k = 1.27 Å⁻¹)"}, {"E": -31, "v": 0.1957, "s": "Experiment (k = 1.27 Å⁻¹)"}, {"E": -30, "v": 0.1939, "s": "Experiment (k = 1.27 Å⁻¹)"}, {"E": -29, "v": 0.2236, "s": "Experiment (k = 1.27 Å⁻¹)"}, {"E": -28, "v": 0.2231, "s": "Experiment (k = 1.27 Å⁻¹)"}, {"E": -27, "v": 0.2573, "s": "Experiment (k = 1.27 Å⁻¹)"}, {"E": -26, "v": 0.2496, "s": "Experiment (k = 1.27 Å⁻¹)"}, {"E": -25, "v": 0.2958, "s": "Experiment (k = 1.27 Å⁻¹)"}, {"E": -24, "v": 0.3104, "s": "Experiment (k = 1.27 Å⁻¹)"}, {"E": -23, "v": 0.3863, "s": "Experiment (k = 1.27 Å⁻¹)"}, {"E": -22, "v": 0.4312, "s": "Experiment (k = 1.27 Å⁻¹)"}, {"E": -21, "v": 0.5304, "s": "Experiment (k = 1.27 Å⁻¹)"}, {"E": -20, "v": 0.5594, "s": "Experiment (k = 1.27 Å⁻¹)"}, {"E": -19, "v": 0.6018, "s": "Experiment (k = 1.27 Å⁻¹)"}, {"E": -18, "v": 0.5940, "s": "Experiment (k = 1.27 Å⁻¹)"}, {"E": -17, "v": 0.6120, "s": "Experiment (k = 1.27 Å⁻¹)"}, {"E": -16, "v": 0.5782, "s": "Experiment (k = 1.27 Å⁻¹)"}, {"E": -15, "v": 0.5923, "s": "Experiment (k = 1.27 Å⁻¹)"}, {"E": -14, "v": 0.5432, "s": "Experiment (k = 1.27 Å⁻¹)"}, {"E": -13, "v": 0.5559, "s": "Experiment (k = 1.27 Å⁻¹)"}, {"E": -12, "v": 0.5145, "s": "Experiment (k = 1.27 Å⁻¹)"}, {"E": -11, "v": 0.5202, "s": "Experiment (k = 1.27 Å⁻¹)"}, {"E": -10, "v": 0.4950, "s": "Experiment (k = 1.27 Å⁻¹)"}, {"E": -9, "v": 0.4899, "s": "Experiment (k = 1.27 Å⁻¹)"}, {"E": -8, "v": 0.4653, "s": "Experiment (k = 1.27 Å⁻¹)"}, {"E": -7, "v": 0.4505, "s": "Experiment (k = 1.27 Å⁻¹)"}, {"E": -6, "v": 0.4400, "s": "Experiment (k = 1.27 Å⁻¹)"}, {"E": -5, "v": 0.4500, "s": "Experiment (k = 1.27 Å⁻¹)"}, {"E": -4, "v": 0.5000, "s": "Experiment (k = 1.27 Å⁻¹)"}, {"E": -3, "v": 0.6000, "s": "Experiment (k = 1.27 Å⁻¹)"}, {"E": -2, "v": 0.7500, "s": "Experiment (k = 1.27 Å⁻¹)"}, {"E": -1, "v": 0.9000, "s": "Experiment (k = 1.27 Å⁻¹)"}, {"E": 0, "v": 1.0, "s": "Experiment (k = 1.27 Å⁻¹)"}, {"E": 1, "v": 0.940, "s": "Experiment (k = 1.27 Å⁻¹)"}, {"E": 2, "v": 0.879, "s": "Experiment (k = 1.27 Å⁻¹)"}, {"E": 3, "v": 0.764, "s": "Experiment (k = 1.27 Å⁻¹)"}, {"E": 4, "v": 0.714, "s": "Experiment (k = 1.27 Å⁻¹)"}, {"E": 5, "v": 0.601, "s": "Experiment (k = 1.27 Å⁻¹)"}, {"E": 6, "v": 0.5665, "s": "Experiment (k = 1.27 Å⁻¹)"}, {"E": 7, "v": 0.4753, "s": "Experiment (k = 1.27 Å⁻¹)"}, {"E": 8, "v": 0.4429, "s": "Experiment (k = 1.27 Å⁻¹)"}, {"E": 9, "v": 0.3696, "s": "Experiment (k = 1.27 Å⁻¹)"}, {"E": 10, "v": 0.3536, "s": "Experiment (k = 1.27 Å⁻¹)"}, {"E": 11, "v": 0.3007, "s": "Experiment (k = 1.27 Å⁻¹)"}, {"E": 12, "v": 0.2884, "s": "Experiment (k = 1.27 Å⁻¹)"}, {"E": 13, "v": 0.2448, "s": "Experiment (k = 1.27 Å⁻¹)"}, {"E": 14, "v": 0.2369, "s": "Experiment (k = 1.27 Å⁻¹)"}, {"E": 15, "v": 0.2107, "s": "Experiment (k = 1.27 Å⁻¹)"}, {"E": 16, "v": 0.2040, "s": "Experiment (k = 1.27 Å⁻¹)"}, {"E": 17, "v": 0.1813, "s": "Experiment (k = 1.27 Å⁻¹)"}, {"E": 18, "v": 0.1734, "s": "Experiment (k = 1.27 Å⁻¹)"}, {"E": 19, "v": 0.1539, "s": "Experiment (k = 1.27 Å⁻¹)"}, {"E": 20, "v": 0.1450, "s": "Experiment (k = 1.27 Å⁻¹)"},

            {"E": -59, "v": 0.0080, "s": "MA (DFT, HSE, k = 1.27 Å⁻¹)"}, {"E": -57.4, "v": 0.0100, "s": "MA (DFT, HSE, k = 1.27 Å⁻¹)"}, {"E": -55, "v": 0.0144, "s": "MA (DFT, HSE, k = 1.27 Å⁻¹)"}, {"E": -52, "v": 0.0227, "s": "MA (DFT, HSE, k = 1.27 Å⁻¹)"}, {"E": -49.5, "v": 0.0331, "s": "MA (DFT, HSE, k = 1.27 Å⁻¹)"}, {"E": -46, "v": 0.0490, "s": "MA (DFT, HSE, k = 1.27 Å⁻¹)"}, {"E": -42.6, "v": 0.0715, "s": "MA (DFT, HSE, k = 1.27 Å⁻¹)"}, {"E": -40, "v": 0.0850, "s": "MA (DFT, HSE, k = 1.27 Å⁻¹)"}, {"E": -36.8, "v": 0.105, "s": "MA (DFT, HSE, k = 1.27 Å⁻¹)"}, {"E": -34, "v": 0.135, "s": "MA (DFT, HSE, k = 1.27 Å⁻¹)"}, {"E": -32.1, "v": 0.166, "s": "MA (DFT, HSE, k = 1.27 Å⁻¹)"}, {"E": -29, "v": 0.205, "s": "MA (DFT, HSE, k = 1.27 Å⁻¹)"}, {"E": -26.3, "v": 0.252, "s": "MA (DFT, HSE, k = 1.27 Å⁻¹)"}, {"E": -24.5, "v": 0.310, "s": "MA (DFT, HSE, k = 1.27 Å⁻¹)"}, {"E": -22.8, "v": 0.427, "s": "MA (DFT, HSE, k = 1.27 Å⁻¹)"}, {"E": -21.5, "v": 0.500, "s": "MA (DFT, HSE, k = 1.27 Å⁻¹)"}, {"E": -20.8, "v": 0.535, "s": "MA (DFT, HSE, k = 1.27 Å⁻¹)"}, {"E": -19.5, "v": 0.585, "s": "MA (DFT, HSE, k = 1.27 Å⁻¹)"}, {"E": -18.1, "v": 0.600, "s": "MA (DFT, HSE, k = 1.27 Å⁻¹)"}, {"E": -17, "v": 0.598, "s": "MA (DFT, HSE, k = 1.27 Å⁻¹)"}, {"E": -15, "v": 0.572, "s": "MA (DFT, HSE, k = 1.27 Å⁻¹)"}, {"E": -13.5, "v": 0.535, "s": "MA (DFT, HSE, k = 1.27 Å⁻¹)"}, {"E": -11, "v": 0.505, "s": "MA (DFT, HSE, k = 1.27 Å⁻¹)"}, {"E": -8.85, "v": 0.473, "s": "MA (DFT, HSE, k = 1.27 Å⁻¹)"}, {"E": -7, "v": 0.450, "s": "MA (DFT, HSE, k = 1.27 Å⁻¹)"}, {"E": -5.9, "v": 0.430, "s": "MA (DFT, HSE, k = 1.27 Å⁻¹)"}, {"E": -5, "v": 0.440, "s": "MA (DFT, HSE, k = 1.27 Å⁻¹)"}, {"E": -4.3, "v": 0.500, "s": "MA (DFT, HSE, k = 1.27 Å⁻¹)"}, {"E": -3.6, "v": 0.584, "s": "MA (DFT, HSE, k = 1.27 Å⁻¹)"}, {"E": -2.7, "v": 0.710, "s": "MA (DFT, HSE, k = 1.27 Å⁻¹)"}, {"E": -1.9, "v": 0.858, "s": "MA (DFT, HSE, k = 1.27 Å⁻¹)"}, {"E": -1, "v": 0.950, "s": "MA (DFT, HSE, k = 1.27 Å⁻¹)"}, {"E": -0.1, "v": 1.000, "s": "MA (DFT, HSE, k = 1.27 Å⁻¹)"}, {"E": 1, "v": 0.955, "s": "MA (DFT, HSE, k = 1.27 Å⁻¹)"}, {"E": 2, "v": 0.865, "s": "MA (DFT, HSE, k = 1.27 Å⁻¹)"}, {"E": 2.8, "v": 0.773, "s": "MA (DFT, HSE, k = 1.27 Å⁻¹)"}, {"E": 4, "v": 0.670, "s": "MA (DFT, HSE, k = 1.27 Å⁻¹)"}, {"E": 5, "v": 0.590, "s": "MA (DFT, HSE, k = 1.27 Å⁻¹)"}, {"E": 6.3, "v": 0.508, "s": "MA (DFT, HSE, k = 1.27 Å⁻¹)"}, {"E": 8, "v": 0.410, "s": "MA (DFT, HSE, k = 1.27 Å⁻¹)"}, {"E": 9.8, "v": 0.334, "s": "MA (DFT, HSE, k = 1.27 Å⁻¹)"}, {"E": 12, "v": 0.270, "s": "MA (DFT, HSE, k = 1.27 Å⁻¹)"}, {"E": 14.4, "v": 0.219, "s": "MA (DFT, HSE, k = 1.27 Å⁻¹)"}, {"E": 17, "v": 0.178, "s": "MA (DFT, HSE, k = 1.27 Å⁻¹)"}, {"E": 20, "v": 0.144, "s": "MA (DFT, HSE, k = 1.27 Å⁻¹)"},

            {"E": -160, "v": 0.0178, "s": "DFT (HSE, k = 0)"}, {"E": -155, "v": 0.0198, "s": "DFT (HSE, k = 0)"}, {"E": -150, "v": 0.0218, "s": "DFT (HSE, k = 0)"}, {"E": -145, "v": 0.0242, "s": "DFT (HSE, k = 0)"}, {"E": -140, "v": 0.0265, "s": "DFT (HSE, k = 0)"}, {"E": -135, "v": 0.0290, "s": "DFT (HSE, k = 0)"}, {"E": -130, "v": 0.0312, "s": "DFT (HSE, k = 0)"}, {"E": -125, "v": 0.0331, "s": "DFT (HSE, k = 0)"}, {"E": -120, "v": 0.0343, "s": "DFT (HSE, k = 0)"}, {"E": -113.5, "v": 0.0355, "s": "DFT (HSE, k = 0)"}, {"E": -108, "v": 0.0363, "s": "DFT (HSE, k = 0)"}, {"E": -102, "v": 0.0368, "s": "DFT (HSE, k = 0)"}, {"E": -98, "v": 0.0366, "s": "DFT (HSE, k = 0)"}, {"E": -94, "v": 0.0356, "s": "DFT (HSE, k = 0)"}, {"E": -90, "v": 0.0336, "s": "DFT (HSE, k = 0)"}, {"E": -86.7, "v": 0.0309, "s": "DFT (HSE, k = 0)"}, {"E": -83.3, "v": 0.0282, "s": "DFT (HSE, k = 0)"}, {"E": -80, "v": 0.0260, "s": "DFT (HSE, k = 0)"}, {"E": -77, "v": 0.0232, "s": "DFT (HSE, k = 0)"}, {"E": -74, "v": 0.0205, "s": "DFT (HSE, k = 0)"}, {"E": -71.6, "v": 0.0172, "s": "DFT (HSE, k = 0)"}, {"E": -68.7, "v": 0.0142, "s": "DFT (HSE, k = 0)"}, {"E": -65.8, "v": 0.0122, "s": "DFT (HSE, k = 0)"}, {"E": -63.5, "v": 0.0103, "s": "DFT (HSE, k = 0)"}, {"E": -62, "v": 0.0092, "s": "DFT (HSE, k = 0)"},

            {"E": -160, "v": 0.0167, "s": "DFT (PBE, k = 0)"}, {"E": -155, "v": 0.0188, "s": "DFT (PBE, k = 0)"}, {"E": -150, "v": 0.0212, "s": "DFT (PBE, k = 0)"}, {"E": -145, "v": 0.0240, "s": "DFT (PBE, k = 0)"}, {"E": -140, "v": 0.0268, "s": "DFT (PBE, k = 0)"}, {"E": -135, "v": 0.0300, "s": "DFT (PBE, k = 0)"}, {"E": -130, "v": 0.0325, "s": "DFT (PBE, k = 0)"}, {"E": -125, "v": 0.0355, "s": "DFT (PBE, k = 0)"}, {"E": -120, "v": 0.0372, "s": "DFT (PBE, k = 0)"}, {"E": -113.5, "v": 0.0394, "s": "DFT (PBE, k = 0)"}, {"E": -108, "v": 0.0405, "s": "DFT (PBE, k = 0)"}, {"E": -101.8, "v": 0.0416, "s": "DFT (PBE, k = 0)"}, {"E": -97, "v": 0.0425, "s": "DFT (PBE, k = 0)"}, {"E": -93.7, "v": 0.0430, "s": "DFT (PBE, k = 0)"}, {"E": -90, "v": 0.0424, "s": "DFT (PBE, k = 0)"}, {"E": -86.2, "v": 0.0406, "s": "DFT (PBE, k = 0)"}, {"E": -83.3, "v": 0.0381, "s": "DFT (PBE, k = 0)"}, {"E": -80, "v": 0.0355, "s": "DFT (PBE, k = 0)"}, {"E": -77.4, "v": 0.0330, "s": "DFT (PBE, k = 0)"}, {"E": -74, "v": 0.0285, "s": "DFT (PBE, k = 0)"}, {"E": -71.6, "v": 0.0258, "s": "DFT (PBE, k = 0)"}, {"E": -68, "v": 0.0218, "s": "DFT (PBE, k = 0)"}, {"E": -65.8, "v": 0.0196, "s": "DFT (PBE, k = 0)"}, {"E": -63, "v": 0.0166, "s": "DFT (PBE, k = 0)"}, {"E": -60, "v": 0.0138, "s": "DFT (PBE, k = 0)"}, {"E": -58, "v": 0.0121, "s": "DFT (PBE, k = 0)"}, {"E": -56.5, "v": 0.0108, "s": "DFT (PBE, k = 0)"}, {"E": -55, "v": 0.0097, "s": "DFT (PBE, k = 0)"}
          ]},
          "mark": {"type": "line", "strokeWidth": 2, "clip": true},
          "encoding": {
            "x": {"field": "E", "type": "quantitative", "scale": {"domain": [-160, 20], "nice": false, "zero": false},
                  "axis": {"orient": "bottom", "values": [-160, -120, -80, -40, 0], "tickSize": -8, "labelPadding": 15, "titlePadding": 8, "title": "photon energy transfer ΔE [eV]", "labelExpr": "replace(datum.label, '−', '-')"}},
            "y": {"field": "v", "type": "quantitative", "scale": {"type": "log", "domain": [0.01, 1], "nice": false},
                  "axis": {"orient": "left", "values": [0.01, 0.1, 1], "format": "~g", "tickSize": -8, "title": "scattering signal [arbit. units]"}},
            "color": {"field": "s", "type": "nominal",
                      "scale": {"domain": ["Experiment (k = 1.27 Å⁻¹)", "MA (DFT, HSE, k = 1.27 Å⁻¹)", "DFT (HSE, k = 0)", "DFT (PBE, k = 0)", "ΔE"], "range": ["#000000", "#ff0000", "#ff0000", "#c8a000", "#000000"]},
                      "legend": {"orient": "none", "legendX": 25.7, "legendY": 41.7, "title": " ", "titleOrient": "bottom", "titleFontSize": 10, "titlePadding": 0, "symbolType": "M-4,0H4", "symbolSize": 100, "symbolStrokeWidth": 2, "symbolOffset": 2, "labelOffset": 13.3, "labelFont": "Liberation Serif", "labelFontSize": 20, "labelLimit": 400, "rowPadding": 2.5, "padding": 12, "strokeColor": "#000",
                                 "encode": {"labels": {"update": {"fill": {"signal": "datum.value == 'DFT (PBE, k = 0)' ? '#c8a000' : (datum.value == 'DFT (HSE, k = 0)' || datum.value == 'MA (DFT, HSE, k = 1.27 Å⁻¹)') ? '#ff0000' : '#000000'"}}}}}},
            "strokeDash": {"field": "s", "type": "nominal",
                           "scale": {"domain": ["Experiment (k = 1.27 Å⁻¹)", "MA (DFT, HSE, k = 1.27 Å⁻¹)", "DFT (HSE, k = 0)", "DFT (PBE, k = 0)", "ΔE"], "range": [[1, 0], [1, 0], [2.5, 2], [2.5, 2], [10, 6]]},
                           "legend": {"orient": "none", "legendX": 25.7, "legendY": 41.7, "title": " ", "titleOrient": "bottom", "titleFontSize": 10, "titlePadding": 0, "symbolType": "M-4,0H4", "symbolSize": 100, "symbolStrokeWidth": 2, "symbolOffset": 2, "labelOffset": 13.3, "labelFont": "Liberation Serif", "labelFontSize": 20, "labelLimit": 400, "rowPadding": 2.5, "padding": 12, "strokeColor": "#000",
                                      "encode": {"labels": {"update": {"fill": {"signal": "datum.value == 'DFT (PBE, k = 0)' ? '#c8a000' : (datum.value == 'DFT (HSE, k = 0)' || datum.value == 'MA (DFT, HSE, k = 1.27 Å⁻¹)') ? '#ff0000' : '#000000'"}}}}}}
          }
        },
        {
          "data": {"values": [{"E": -21, "s": "ΔE"}]},
          "mark": {"type": "rule", "strokeWidth": 2},
          "encoding": {
            "x": {"field": "E", "type": "quantitative", "axis": null},
            "color": {"field": "s", "type": "nominal"},
            "strokeDash": {"field": "s", "type": "nominal"}
          }
        },
        {
          "data": {"values": [
            {"E": -146.6, "v": 0.1253, "t": "θ = 18"},
            {"E": -146.6, "v": 0.0886, "t": "k = 1.27 Å⁻¹"},
            {"E": -146.6, "v": 0.0567, "t": "|N(k)|²S(k) = 1.36"}
          ]},
          "mark": {"type": "text", "align": "left", "baseline": "middle", "fontSize": 24, "font": "Liberation Serif"},
          "encoding": {
            "x": {"field": "E", "type": "quantitative", "axis": {"orient": "top", "values": [-160, -120, -80, -40, 0], "tickSize": -8, "labels": false, "title": null}},
            "y": {"field": "v", "type": "quantitative", "axis": {"orient": "right", "values": [0.01, 0.1, 1], "tickSize": -8, "labels": false, "title": null}},
            "text": {"field": "t"}
          }
        },
        {
          "data": {"values": [
            {"E": -124.8, "v": 0.133, "t": "o"},
            {"E": -125.3, "v": 0.2128, "t": "excit"}
          ]},
          "mark": {"type": "text", "align": "left", "baseline": "middle", "fontSize": 15, "font": "Liberation Serif"},
          "encoding": {
            "x": {"field": "E", "type": "quantitative", "axis": {"orient": "bottom", "values": [-150, -140, -130, -110, -100, -90, -70, -60, -50, -30, -20, -10, 10], "tickSize": -4, "labels": false, "title": null}},
            "y": {"field": "v", "type": "quantitative", "axis": {"orient": "left", "values": [0.02, 0.03, 0.04, 0.05, 0.06, 0.07, 0.08, 0.09, 0.2, 0.3, 0.4, 0.5, 0.6, 0.7, 0.8, 0.9], "tickSize": -4, "labels": false, "title": null}},
            "text": {"field": "t"}
          }
        },
        {
          "data": {"values": [{"E": -148.4, "v": 0.772, "t": "b)"}]},
          "mark": {"type": "text", "align": "left", "baseline": "middle", "fontSize": 30, "font": "Liberation Serif"},
          "encoding": {
            "x": {"field": "E", "type": "quantitative", "axis": {"orient": "top", "values": [-150, -140, -130, -110, -100, -90, -70, -60, -50, -30, -20, -10, 10], "tickSize": -4, "labels": false, "title": null}},
            "y": {"field": "v", "type": "quantitative", "axis": {"orient": "right", "values": [0.02, 0.03, 0.04, 0.05, 0.06, 0.07, 0.08, 0.09, 0.2, 0.3, 0.4, 0.5, 0.6, 0.7, 0.8, 0.9], "tickSize": -4, "labels": false, "title": null}},
            "text": {"field": "t"}
          }
        },
        {
          "data": {"values": [
            {"E": -132.7, "v": 0.0195, "t": "bound-free"},
            {"E": -132.7, "v": 0.0164, "t": "transition feature"},
            {"E": -37.3, "v": 0.721, "t": "plasmons"}
          ]},
          "mark": {"type": "text", "align": "left", "baseline": "middle", "fontSize": 18, "font": "Liberation Serif"},
          "encoding": {
            "x": {"field": "E", "type": "quantitative", "axis": null},
            "y": {"field": "v", "type": "quantitative", "axis": null},
            "text": {"field": "t"}
          }
        }
      ]
    }
  ]
}
